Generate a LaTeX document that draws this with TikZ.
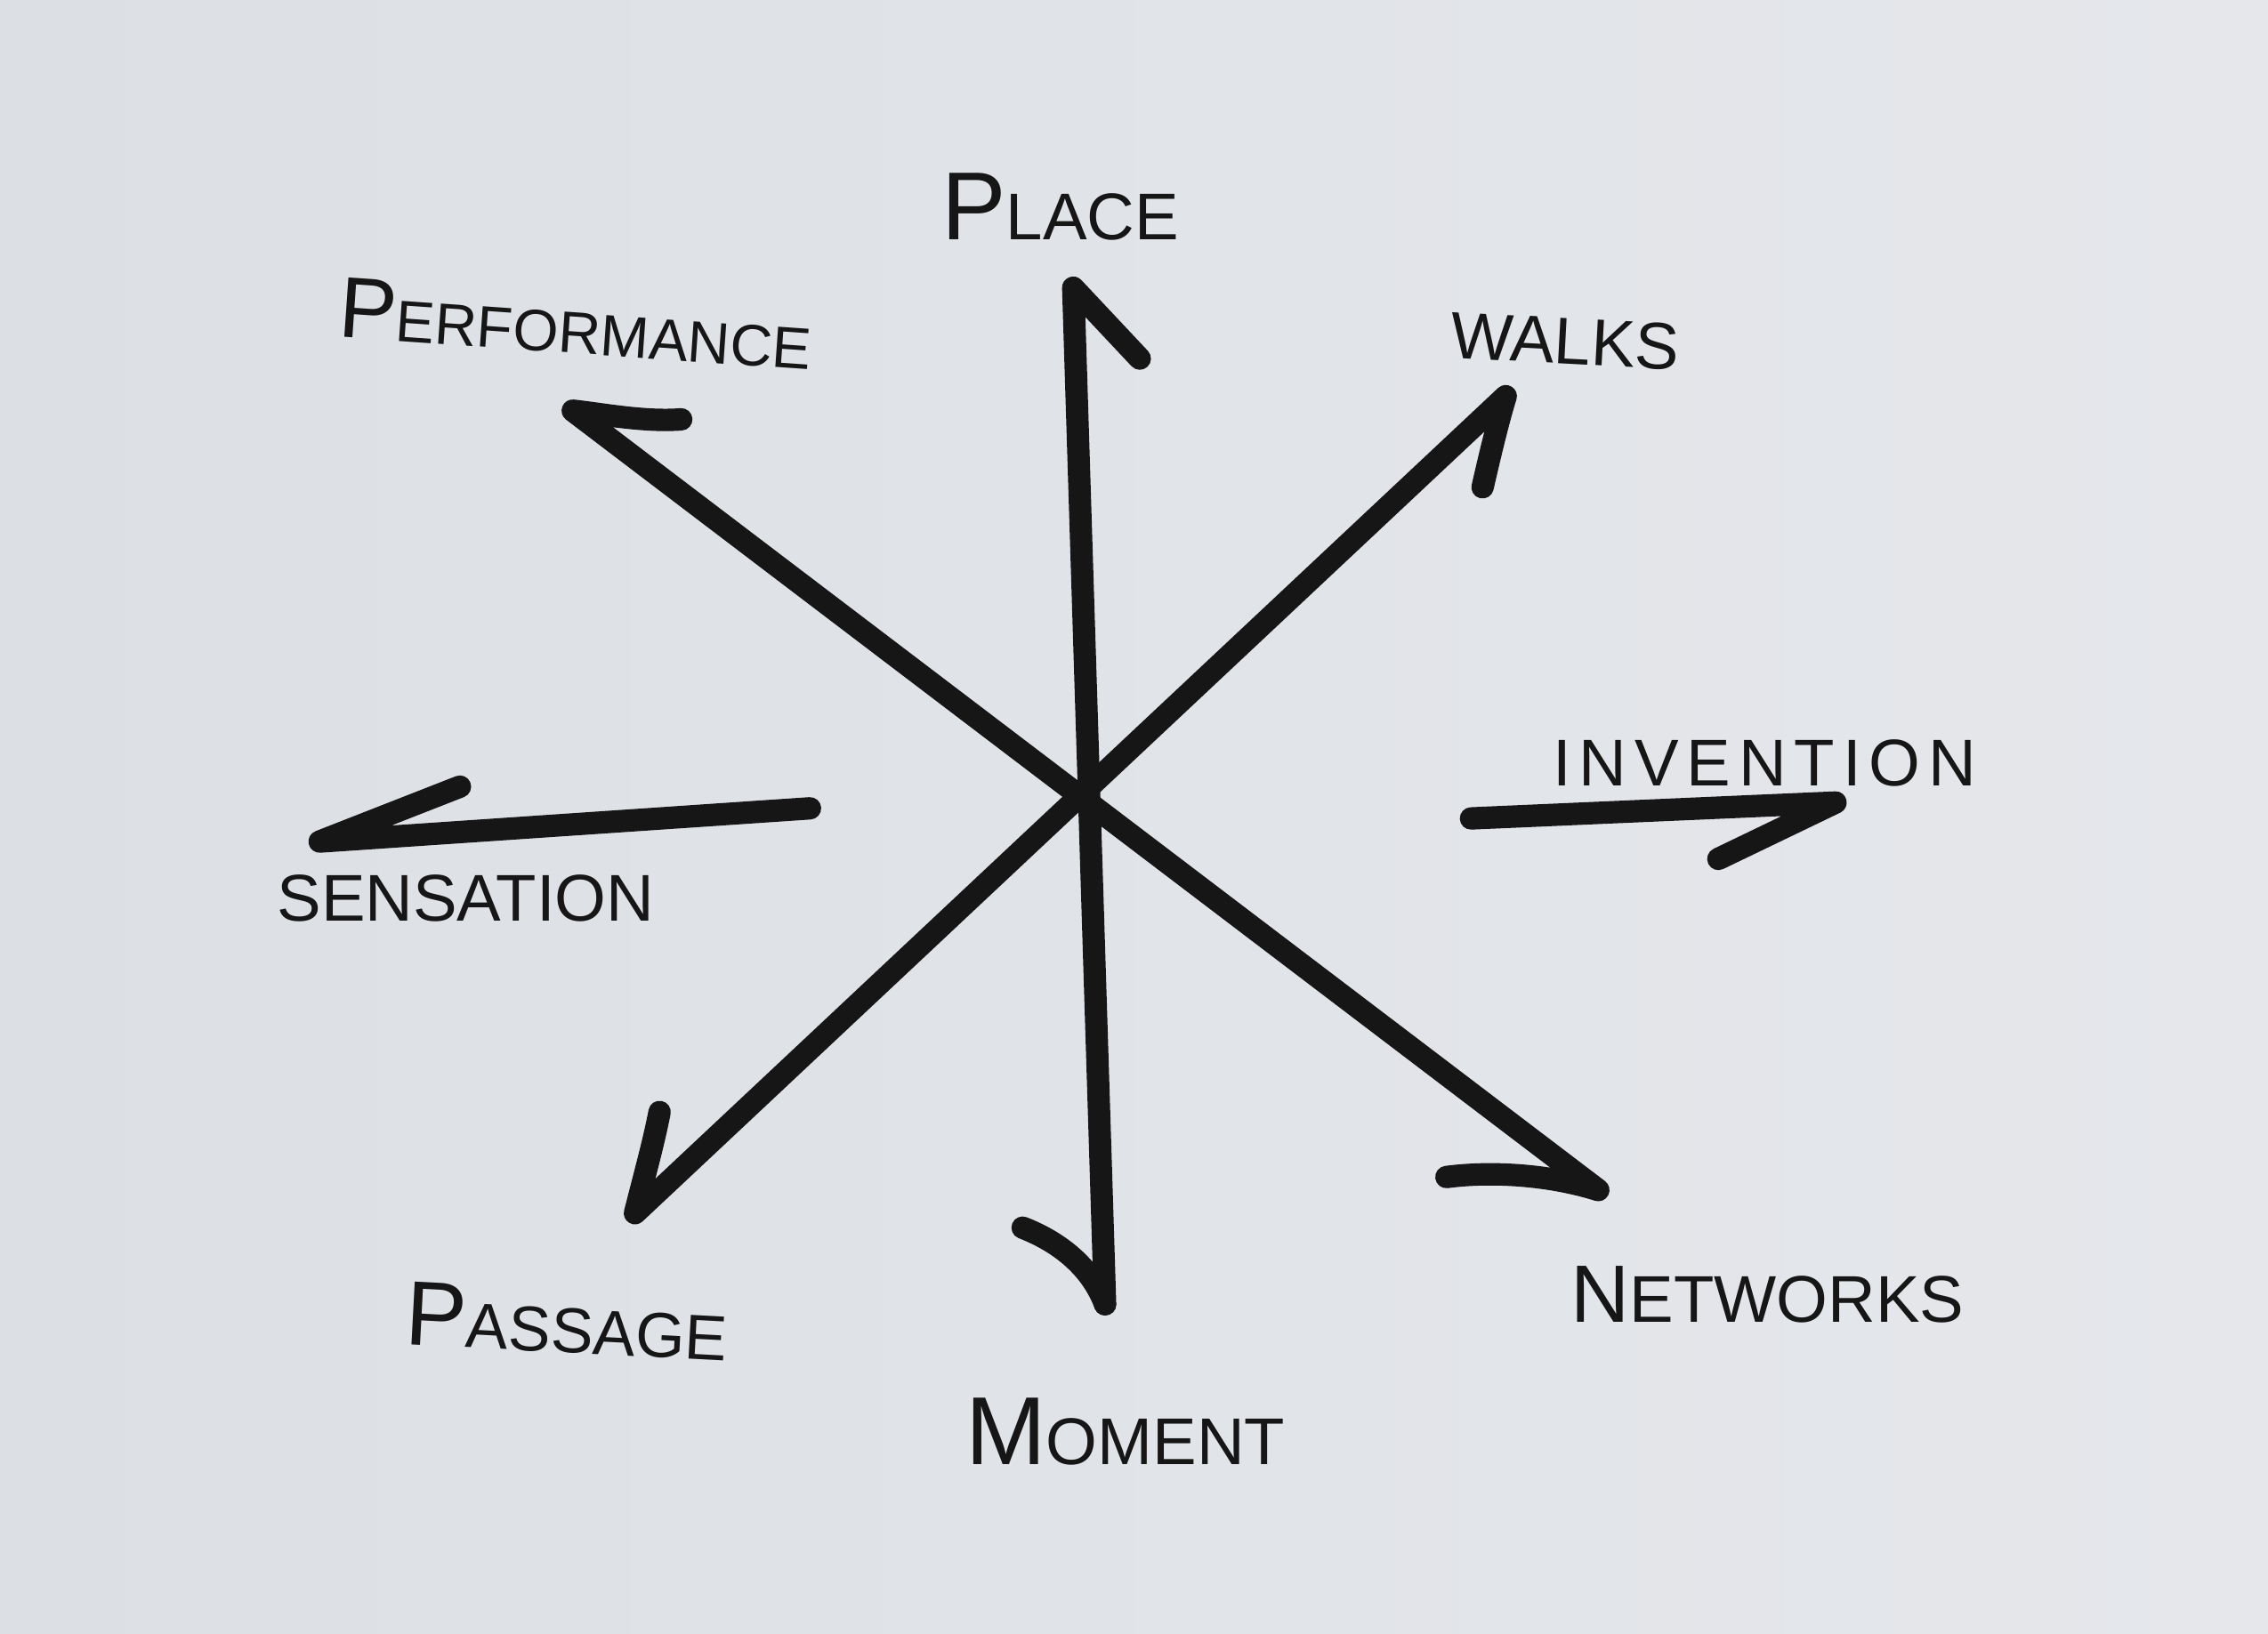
\documentclass[tikz,border=0pt]{standalone}
\usepackage{fontspec}
\setmainfont{Liberation Sans}
\newcommand\capbig[2][20]{{\fontsize{#1}{#1}\selectfont #2}}
\definecolor{inkc}{RGB}{22,22,22}
\definecolor{paperA}{RGB}{220,224,229}
\definecolor{paperB}{RGB}{229,231,235}
\begin{document}
\begin{tikzpicture}[x=0.01cm,y=-0.01cm,
  ink/.style={draw=inkc, line width=4.4pt, line cap=round, line join=round},
  lbl/.style={text=inkc, inner sep=0pt, font=\fontsize{13}{15}\selectfont},
]
\shade[left color=paperA, right color=paperB] (0,0) rectangle (1568,1130);
\useasboundingbox (0,0) rectangle (1568,1130);

% labels
\node[lbl] (place) at (733,143) {\capbig[19]{P}LACE};
\node[lbl, rotate=-4, font=\fontsize{11.5}{14}\selectfont] (perf) at (398,224) {\capbig[17]{P}ERFORMANCE};
\node[lbl, rotate=-3] (walks) at (1082,236) {WALKS};
\node[lbl, font=\fontsize{13}{15}\selectfont\addfontfeature{LetterSpace=12}] (invent) at (1220,528) {INVENTION};
\node[lbl] (sens) at (322,621) {SENSATION};
\node[lbl, rotate=-3, font=\fontsize{12.5}{15}\selectfont] (pass) at (392,914) {\capbig[18]{P}ASSAGE};
\node[lbl] (moment) at (778,990) {\capbig[19]{M}OMENT};
\node[lbl] (net) at (1222,895) {\capbig[16]{N}ETWORKS};

% arrow end points
\coordinate (vt) at (742,199);
\coordinate (vtb) at (788,248);
\coordinate (vb) at (764,902);
\coordinate (vbb) at (707,849);

\coordinate (d1t) at (396,284);
\coordinate (d1tb) at (471,290);
\coordinate (d1b) at (1105,823);
\coordinate (d1bb) at (1000,814);

\coordinate (d2t) at (1041,274);
\coordinate (d2tb) at (1025,337);
\coordinate (d2b) at (439,839);
\coordinate (d2bb) at (456,769);

\coordinate (st) at (560,559);
\coordinate (sh) at (221,582);
\coordinate (shb) at (318,544);

\coordinate (it) at (1017,566);
\coordinate (ih) at (1269,555);
\coordinate (ihb) at (1188,594);

% vertical double arrow (Place - Moment)
\draw[ink] (vtb) -- (vt) -- (vb);
\draw[ink] (vbb) .. controls (735,860) and (755,878) .. (vb);

% diagonal Performance - Networks
\draw[ink] (d1tb) .. controls (445,292) and (415,286) .. (d1t) -- (d1b)
  .. controls (1070,812) and (1030,810) .. (d1bb);

% diagonal Walks - Passage
\draw[ink] (d2tb) .. controls (1030,315) and (1036,290) .. (d2t) -- (d2b)
  .. controls (445,815) and (452,790) .. (d2bb);

% Sensation arrow
\draw[ink] (st) -- (sh) -- (shb);

% Invention arrow
\draw[ink] (it) -- (ih) -- (ihb);
\end{tikzpicture}
\end{document}
